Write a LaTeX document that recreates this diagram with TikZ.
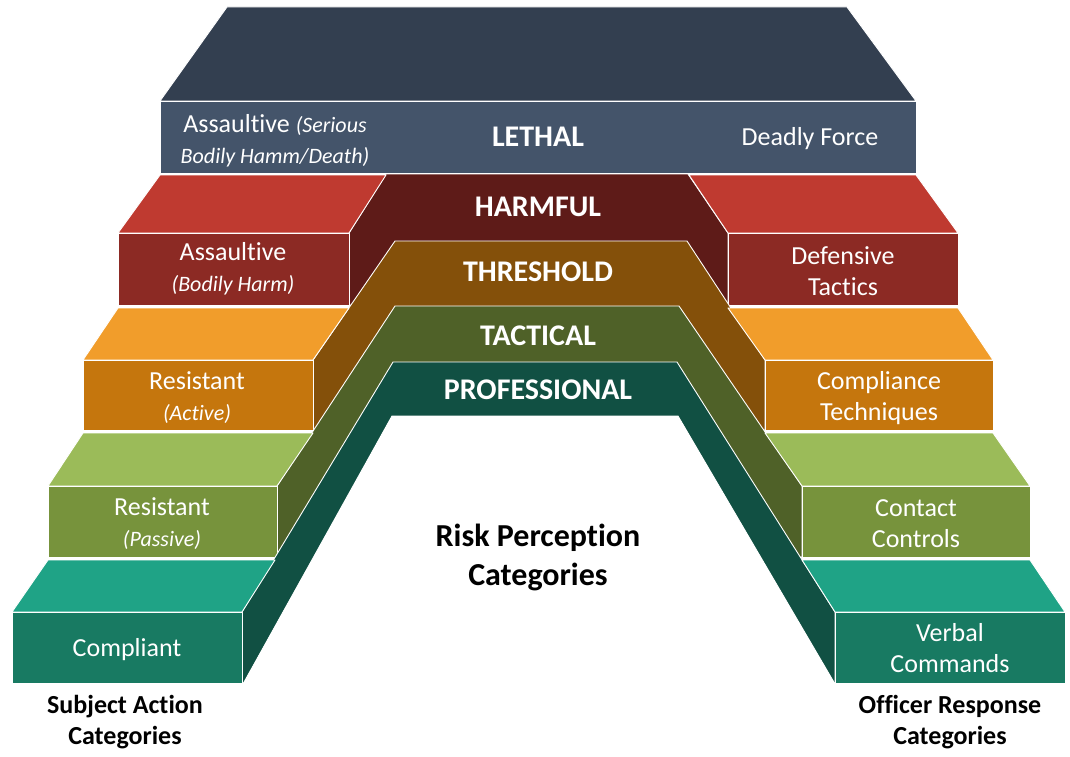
\documentclass[tikz,border=0pt]{standalone}
\usepackage{fontspec}
\setmainfont[Ligatures=NoCommon]{Carlito}
\definecolor{lethTop}{HTML}{333F50}
\definecolor{lethFront}{HTML}{44546A}
\definecolor{redTop}{HTML}{BF3A30}
\definecolor{redFront}{HTML}{8C2A24}
\definecolor{harmBand}{HTML}{5E1B18}
\definecolor{oraTop}{HTML}{F19D2B}
\definecolor{oraFront}{HTML}{C5760D}
\definecolor{thrBand}{HTML}{84500A}
\definecolor{grnTop}{HTML}{9BBB59}
\definecolor{grnFront}{HTML}{77933C}
\definecolor{tacBand}{HTML}{4F6128}
\definecolor{tealTop}{HTML}{1FA386}
\definecolor{tealFront}{HTML}{187A62}
\definecolor{proBand}{HTML}{115043}
\newcommand{\subtx}[1]{{\itshape\fontsize{22}{31}\selectfont #1}}

\begin{document}
\begin{tikzpicture}[x=1pt,y=-1pt,
  face/.style={draw=white,line width=0.9pt,line join=round},
  lbl/.style={text=white,align=center,inner sep=0pt,font=\fontsize{26}{31}\selectfont},
  bandlbl/.style={text=white,inner sep=0pt,font=\bfseries\fontsize{30}{36}\selectfont},
  caption/.style={text=black,align=center,inner sep=0pt,font=\bfseries\fontsize{26}{31}\selectfont}]
  \useasboundingbox (0,0) rectangle (1070,757);
  % lethal slab
  \filldraw[face,fill=lethTop] (227,7)--(847,7)--(916,101)--(160,101)--cycle;
  \filldraw[face,fill=lethFront] (160,101) rectangle (916,173);
  % harmful
  \filldraw[face,fill=harmBand] (386,174)--(688,174)--(728,233)--(728,305)--(349,305)--(349,233)--cycle;
  \filldraw[face,fill=redTop] (160,175)--(386,175)--(349,233)--(118,233)--cycle;
  \filldraw[face,fill=redFront] (118,233) rectangle (349,305);
  \filldraw[face,fill=redTop] (689,175)--(916,175)--(958,233)--(728,233)--cycle;
  \filldraw[face,fill=redFront] (728,233) rectangle (958,305);
  % threshold
  \filldraw[face,fill=thrBand] (395,241)--(687,241)--(765,360)--(765,430)--(313,430)--(313,360)--cycle;
  \filldraw[face,fill=oraTop] (118,308)--(349,308)--(313,360)--(83,360)--cycle;
  \filldraw[face,fill=oraFront] (83,360) rectangle (313,430);
  \filldraw[face,fill=oraTop] (728,308)--(958,308)--(993,360)--(765,360)--cycle;
  \filldraw[face,fill=oraFront] (765,360) rectangle (993,430);
  % tactical
  \filldraw[face,fill=tacBand] (395,306)--(679,306)--(802,486)--(802,557)--(277,557)--(277,486)--cycle;
  \filldraw[face,fill=grnTop] (83,433)--(313,433)--(277,486)--(48,486)--cycle;
  \filldraw[face,fill=grnFront] (48,486) rectangle (277,557);
  \filldraw[face,fill=grnTop] (765,433)--(993,433)--(1030,486)--(802,486)--cycle;
  \filldraw[face,fill=grnFront] (802,486) rectangle (1030,557);
  % professional
  \filldraw[face,fill=proBand] (393,362)--(677,362)--(835,612)--(835,683)--(242,683)--(242,612)--cycle;
  \filldraw[face,fill=tealTop] (48,560)--(275,560)--(242,612)--(12,612)--cycle;
  \filldraw[face,fill=tealFront] (12,612) rectangle (242,683);
  \filldraw[face,fill=tealTop] (802,560)--(1030,560)--(1065,612)--(835,612)--cycle;
  \filldraw[face,fill=tealFront] (835,612) rectangle (1065,683);
  \filldraw[face,fill=white] (392,416)--(678,416)--(835,684)--(243,684)--cycle;
  % labels
  \node[lbl] (lethL) at (275,141) {Assaultive \subtx{(Serious}\\\subtx{Bodily Hamm/Death)}};
  \node[bandlbl] (lethC) at (538,137) {LETHAL};
  \node[lbl] (lethR) at (810,139) {Deadly Force};
  \node[bandlbl] (harmC) at (538,207) {HARMFUL};
  \node[lbl] (harmL) at (233,269) {Assaultive\\\subtx{(Bodily Harm)}};
  \node[lbl] (harmR) at (843,271) {Defensive\\Tactics};
  \node[bandlbl] (thrC) at (538,272) {THRESHOLD};
  \node[lbl] (thrL) at (197,398) {Resistant\\\subtx{(Active)}};
  \node[lbl] (thrR) at (879,398) {Compliance\\Techniques};
  \node[bandlbl] (tacC) at (538,336) {TACTICAL};
  \node[lbl] (tacL) at (162,524) {Resistant\\\subtx{(Passive)}};
  \node[lbl] (tacR) at (916,524) {Contact\\Controls};
  \node[bandlbl] (proC) at (538,390) {PROFESSIONAL};
  \node[lbl] (proL) at (127,650) {Compliant};
  \node[lbl] (proR) at (950,648) {Verbal\\Commands};
  \node[caption,font=\bfseries\fontsize{32}{39}\selectfont] (risk) at (538,557) {Risk Perception\\Categories};
  \node[caption] (subj) at (125,722) {Subject Action\\Categories};
  \node[caption] (offi) at (950,722) {Officer Response\\Categories};
\end{tikzpicture}
\end{document}
